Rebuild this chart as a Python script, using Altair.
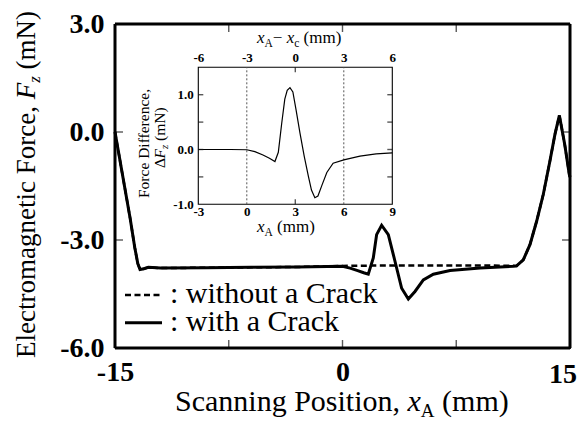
import altair as alt
import pandas as pd

# ---------------- data ----------------
x_with = [-15.0, -14.5, -14.0, -13.7, -13.5, -13.35, -13.1, -12.8, -12.0, -9.0, -6.0, -3.0, 0.0, 0.5,
          1.0, 1.4, 1.7, 2.03, 2.25, 2.58, 3.02, 3.46, 3.9, 4.34, 4.78, 5.33, 5.99, 7.09, 9.07, 11.26,
          11.48, 11.92, 12.36, 12.8, 13.24, 13.68, 14.01, 14.3, 14.65, 14.95, 15.0]
f_with = [0.0, -1.2, -2.4, -3.2, -3.65, -3.82, -3.8, -3.76, -3.78, -3.77, -3.76, -3.75, -3.73, -3.78,
          -3.85, -3.91, -3.95, -3.5, -2.85, -2.59, -2.85, -3.59, -4.34, -4.64, -4.43, -4.11, -3.95, -3.85, -3.78, -3.73,
          -3.72, -3.55, -3.13, -2.48, -1.73, -0.8, -0.06, 0.46, -0.34, -1.17, -1.25]

x_without = [-15.0, -14.5, -14.0, -13.7, -13.5, -13.35, -13.1, -12.8, -12.0, -9.0, -6.0, -3.0, 0.0,
             2.0, 4.0, 6.0, 8.0, 10.0, 11.48, 11.92, 12.36, 12.8, 13.24, 13.68, 14.01, 14.3, 14.65, 14.95, 15.0]
f_without = [0.0, -1.2, -2.4, -3.2, -3.65, -3.82, -3.8, -3.76, -3.78, -3.77, -3.76, -3.75, -3.72,
             -3.71, -3.71, -3.71, -3.71, -3.71, -3.72, -3.55, -3.13, -2.48, -1.73, -0.8, -0.06, 0.46, -0.34, -1.17, -1.25]

x_diff = [-3.0, -1.0, 0.0, 0.5, 1.0, 1.4, 1.74, 1.95, 2.16, 2.35, 2.5, 2.67, 2.85, 3.05, 3.29, 3.55,
          3.81, 4.0, 4.21, 4.4, 4.65, 4.95, 5.34, 6.0, 7.0, 8.0, 9.0]
d_diff = [0.0, 0.0, -0.005, -0.04, -0.1, -0.16, -0.22, -0.05, 0.48, 0.92, 1.08, 1.13, 1.05, 0.72, 0.3, -0.12,
          -0.49, -0.74, -0.88, -0.85, -0.65, -0.42, -0.25, -0.19, -0.12, -0.08, -0.06]

crack_edges = [0.0, 6.0]          # dotted lines in the inset
main_x_ticks = [-15, -7.5, 0, 7.5, 15]
main_x_inner_ticks = [-7.5, 0, 7.5]
main_y_ticks = [-6, -3, 0, 3]
main_y_inner_ticks = [-3, 0]
main_x_domain = [-15, 15]
main_y_domain = [-6, 3]
inset_x_ticks = [-3, 0, 3, 6, 9]
inset_x_inner_ticks = [3]
inset_y_ticks = [-1, -0.5, 0, 0.5, 1, 1.5]
inset_y_inner_ticks = [-0.5, 0, 0.5, 1]
inset_x_domain = [-3, 9]
inset_y_domain = [-1, 1.5]
x_c = 3.0
last_x_label = ["15"]

# ---------------- layout ----------------
FONT = "Liberation Serif"
W, H = 455, 324
IX = [83.3, 277.3]
IY = [180.3, 43.3]

main_x = alt.Scale(domain=main_x_domain, nice=False, zero=False)
main_y = alt.Scale(domain=main_y_domain, nice=False, zero=False)
ins_x = alt.Scale(domain=inset_x_domain, range=IX, nice=False, zero=False)
ins_y = alt.Scale(domain=inset_y_domain, range=IY, nice=False, zero=False)

common = dict(domain=False, grid=False, ticks=False, labelFont=FONT, zindex=1,
              labelFontWeight="bold", labelColor="black", title=None, labelFlush=False,
              labelOverlap=False, labelBound=False)

signed1 = "(datum.value < 0 ? '-' : '') + format(abs(datum.value), '.1f')"
signed0 = "(datum.value < 0 ? '-' : '') + format(abs(datum.value), 'd')"

# main frame: four sides as rules along the scale domain, drawn last
fr = pd.DataFrame({
    "x0": [main_x_domain[0], main_x_domain[0], main_x_domain[0], main_x_domain[1]],
    "x1": [main_x_domain[1], main_x_domain[1], main_x_domain[0], main_x_domain[1]],
    "y0": [main_y_domain[1], main_y_domain[0], main_y_domain[0], main_y_domain[0]],
    "y1": [main_y_domain[1], main_y_domain[0], main_y_domain[1], main_y_domain[1]],
})
frame = alt.Chart(fr).mark_rule(color="black", strokeWidth=3).encode(
    x=alt.X("x0:Q", scale=main_x, axis=None), x2="x1:Q",
    y=alt.Y("y0:Q", scale=main_y, axis=None), y2="y1:Q")


def ticks(xs, ys, xscale, yscale, orient, size, off):
    df = pd.DataFrame({"tx": xs, "ty": ys})
    kw = dict(orient=orient, size=size, thickness=1.4, color="#111111")
    if orient == "vertical":
        kw["yOffset"] = off
    else:
        kw["xOffset"] = off
    return alt.Chart(df).mark_tick(**kw).encode(
        x=alt.X("tx:Q", scale=xscale, axis=None), y=alt.Y("ty:Q", scale=yscale, axis=None))


tick_layers = [
    ticks(main_x_inner_ticks, [main_y_domain[0]] * 3, main_x, main_y, "vertical", 8, -4),
    ticks(main_x_inner_ticks, [main_y_domain[1]] * 3, main_x, main_y, "vertical", 8, 4),
    ticks([main_x_domain[0]] * 2, main_y_inner_ticks, main_x, main_y, "horizontal", 8, 4),
    ticks([main_x_domain[1]] * 2, main_y_inner_ticks, main_x, main_y, "horizontal", 8, -4),
    ticks(inset_x_inner_ticks, [inset_y_domain[0]], ins_x, ins_y, "vertical", 5, -2.5),
    ticks(inset_x_inner_ticks, [inset_y_domain[1]], ins_x, ins_y, "vertical", 5, 2.5),
    ticks([inset_x_domain[0]] * 4, inset_y_inner_ticks, ins_x, ins_y, "horizontal", 5, 2.5),
    ticks([inset_x_domain[1]] * 4, inset_y_inner_ticks, ins_x, ins_y, "horizontal", 5, -2.5),
]

# main curves
B = alt.Chart(pd.DataFrame({"x": x_without, "f": f_without})).mark_line(
    color="black", strokeWidth=2.5, strokeDash=[6, 3.5]).encode(
    x=alt.X("x:Q", scale=main_x, axis=None),
    y=alt.Y("f:Q", scale=main_y, axis=None),
    order="x:Q")

A = alt.Chart(pd.DataFrame({"x": x_with, "f": f_with})).mark_line(
    color="black", strokeWidth=3).encode(
    x=alt.X("x:Q", scale=main_x, axis=alt.Axis(
        orient="bottom", values=main_x_ticks, offset=-8, labelFontSize=28,
        labelPadding=18,
        labelExpr="abs(datum.value) == 7.5 || datum.value == 15 ? '' : " + signed0, **common)),
    y=alt.Y("f:Q", scale=main_y, axis=alt.Axis(
        orient="left", values=main_y_ticks, offset=-8, labelFontSize=28,
        labelPadding=19, labelExpr=signed1, **common)),
    order="x:Q")

last_lab = alt.Chart(pd.DataFrame({"x": [15], "lab": last_x_label})).mark_text(
    font=FONT, fontSize=28, fontWeight="bold", color="black", align="right", baseline="alphabetic",
    dx=7).encode(
    x=alt.X("x:Q", scale=main_x, axis=None), y=alt.value(359), text="lab:N")

# inset frame
E = alt.Chart(pd.DataFrame({"x0": [inset_x_domain[0]], "x1": [inset_x_domain[1]],
                            "y0": [inset_y_domain[0]], "y1": [inset_y_domain[1]]})).mark_rect(
    fill="white", stroke="black", strokeWidth=1.1).encode(
    x=alt.X("x0:Q", scale=ins_x, axis=None), x2="x1:Q",
    y=alt.Y("y0:Q", scale=ins_y, axis=None), y2="y1:Q")

ins_left_labels = ("datum.value == -1 ? '-1.0' : datum.value == 0 ? '0.0' : "
                   "datum.value == 1 ? '1.0' : ''")

D = alt.Chart(pd.DataFrame({"x": crack_edges, "lo": [-1, -1], "hi": [1.5, 1.5]})).mark_rule(
    color="#555555", strokeWidth=1, strokeDash=[2, 2]).encode(
    x=alt.X("x:Q", scale=ins_x, axis=alt.Axis(
        orient="top", values=inset_x_ticks, offset=-(IY[1] + 5),
        labelFontSize=13, labelPadding=8,
        labelExpr=f"(datum.value - {x_c} < 0 ? '-' : '') + format(abs(datum.value - {x_c}), 'd')",
        **common)),
    y=alt.Y("lo:Q", scale=ins_y, axis=None),
    y2="hi:Q")

C = alt.Chart(pd.DataFrame({"x": x_diff, "d": d_diff})).mark_line(
    color="black", strokeWidth=1.2).encode(
    x=alt.X("x:Q", scale=ins_x, axis=alt.Axis(
        orient="bottom", values=inset_x_ticks, offset=IY[0] - 5 - H,
        labelFontSize=13, labelPadding=6, labelExpr=signed0, **common)),
    y=alt.Y("d:Q", scale=ins_y, axis=alt.Axis(
        orient="left", values=inset_y_ticks, offset=-(IX[0] + 5),
        labelFontSize=13, labelPadding=10, labelExpr=ins_left_labels, **common)),
    order="x:Q")

# ---------------- text helpers ----------------
REG = {" ": 250, "(": 333, ")": 333, ",": 250, ":": 278, "\u2212": 564, "-": 333, "A": 722, "C": 667,
       "D": 722, "E": 611, "F": 556, "M": 889, "N": 722, "P": 556, "S": 556, "a": 444, "c": 444,
       "e": 444, "f": 333, "g": 500, "h": 500, "i": 278, "k": 500, "l": 278, "m": 778, "n": 500,
       "o": 500, "r": 333, "s": 389, "t": 278, "u": 500, "w": 722, "x": 500, "z": 444, "\u0394": 612}
ITA = {"F": 611, "x": 444, "z": 389, "A": 611, "c": 444}


def tw(txt, size, style):
    tab = ITA if style == "italic" else REG
    return sum(tab.get(ch, REG.get(ch, 500)) for ch in txt) * size / 1000.0


def piece(txt, x, y, size, style="normal", angle=0):
    return alt.Chart(alt.Data(values=[{"t": txt}])).mark_text(
        font=FONT, fontSize=size, fontStyle=style, align="left", baseline="alphabetic",
        angle=angle, color="black").encode(x=alt.value(x), y=alt.value(y), text="t:N")


def split(txt):
    lead = len(txt) - len(txt.lstrip(" "))
    trail = len(txt) - len(txt.rstrip(" "))
    return lead, txt.strip(" "), trail


def hrow(pieces, x0, y0):
    out, cx = [], x0
    for txt, size, style, dy in pieces:
        lead, core, trail = split(txt)
        cx += lead * REG[" "] * size / 1000.0
        out.append(piece(core, cx, y0 + dy, size, style))
        cx += tw(core, size, style) + trail * REG[" "] * size / 1000.0
    return out


def vrow(pieces, x0, y0):
    out, cy = [], y0
    for txt, size, style, dx in pieces:
        lead, core, trail = split(txt)
        cy -= lead * REG[" "] * size / 1000.0
        out.append(piece(core, x0 + dx, cy, size, style, angle=270))
        cy -= tw(core, size, style) + trail * REG[" "] * size / 1000.0
    return out


texts = []
# main x title
texts += hrow([("Scanning Position, ", 30, "normal", 0), ("x", 30, "italic", 0),
               ("A", 19, "normal", 6), (" (mm)", 30, "normal", 0)], 60, 387)
# main y title
texts += vrow([("Electromagnetic Force, ", 27, "normal", 0), ("F", 27, "italic", 0),
               ("z", 17, "italic", 5), (" (mN)", 27, "normal", 0)], -80, 334)
# inset top title
texts += hrow([("x", 17, "italic", 0), ("A", 11.5, "normal", 4), ("\u2212 ", 17, "normal", 0),
               ("x", 17, "italic", 0), ("c", 11.5, "normal", 4), (" (mm)", 17, "normal", 0)], 142, 19)
# inset bottom title
texts += hrow([("x", 17, "italic", 0), ("A", 11.5, "normal", 4), (" (mm)", 17, "normal", 0)], 142, 208)
# inset y title
texts += vrow([("Force Difference,", 15.5, "normal", 0)], 34, 174)
texts += vrow([("\u0394", 15.5, "normal", 0), ("F", 15.5, "italic", 0), ("z", 11, "italic", 3),
               (" (mN)", 15.5, "normal", 0)], 50, 144)
# legend
texts += hrow([(": without a Crack", 30, "normal", 0)], 55, 279)
texts += hrow([(": with a Crack", 30, "normal", 0)], 55, 307)

leg_dash = alt.Chart(alt.Data(values=[{"k": 1}])).mark_rule(
    color="black", strokeWidth=2.5, strokeDash=[6, 3.5]).encode(
    x=alt.value(10), x2=alt.value(47), y=alt.value(271))
leg_solid = alt.Chart(alt.Data(values=[{"k": 1}])).mark_rule(
    color="black", strokeWidth=3).encode(
    x=alt.value(10), x2=alt.value(47), y=alt.value(298.7))

chart = alt.layer(B, A, last_lab, E, D, C, leg_dash, leg_solid, *texts, *tick_layers, frame).resolve_scale(
    x="independent", y="independent").properties(
    width=W, height=H, autosize=alt.AutoSizeParams(type="none"),
    padding={"left": 107, "top": 16, "right": 9, "bottom": 74}).configure_view(
    stroke="black", strokeWidth=1.2)

chart.save("out.html", embed_options={"renderer": "svg", "actions": False})
